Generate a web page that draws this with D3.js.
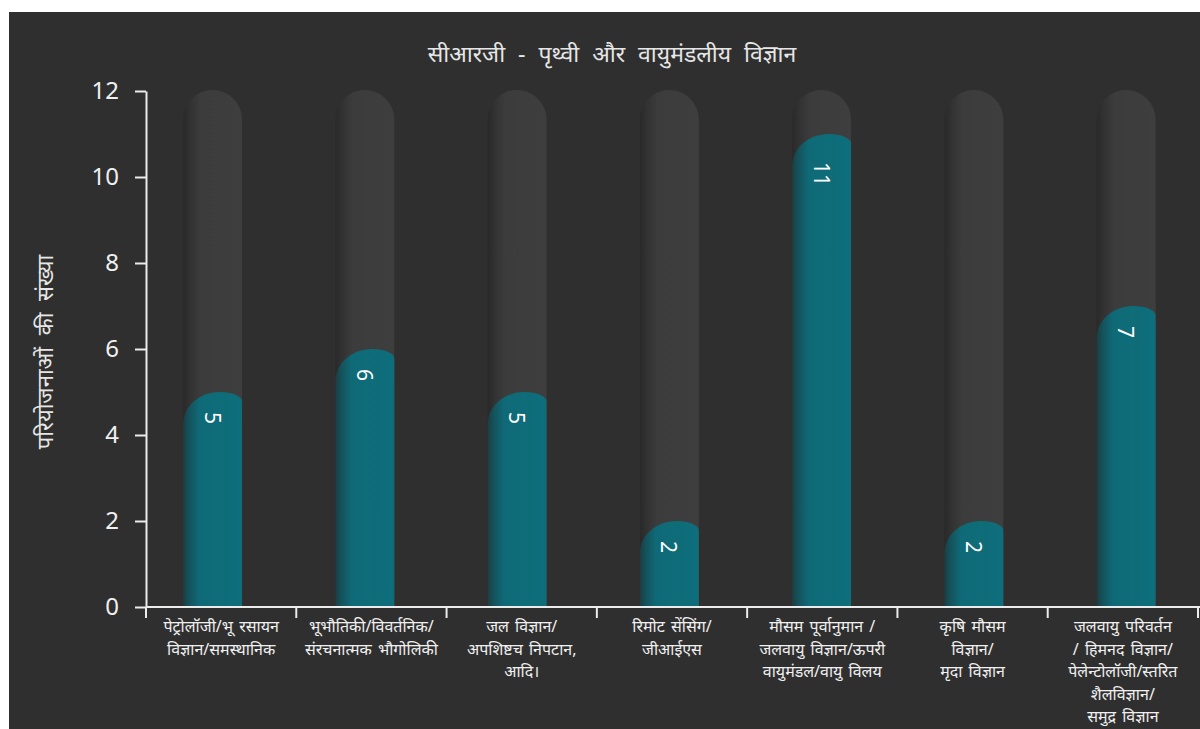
<!DOCTYPE html>
<html>
<head>
<meta charset="utf-8">
<script src="https://cdn.jsdelivr.net/npm/d3@7"></script>
<style>
  body { margin: 0; background: #ffffff; }
  svg { display: block; }
  text { font-family: "Noto Sans", "Open Sans", sans-serif; }
</style>
</head>
<body>
<svg id="chart" width="1200" height="729"></svg>
<script>
// Project counts per research area
const categories = ["petrology", "geophysics", "hydrology", "remoteSensing", "weather", "agromet", "climate"];
const categoryLabels = [
  ["पेट्रोलॉजी/भू रसायन", "विज्ञान/समस्थानिक"],
  ["भूभौतिकी/विवर्तनिक/", "संरचनात्मक भौगोलिकी"],
  ["जल विज्ञान/", "अपशिष्टच निपटान,", "आदि।"],
  ["रिमोट सेंसिंग/", "जीआईएस"],
  ["मौसम पूर्वानुमान /", "जलवायु विज्ञान/ऊपरी", "वायुमंडल/वायु विलय"],
  ["कृषि मौसम", "विज्ञान/", "मृदा विज्ञान"],
  ["जलवायु परिवर्तन", "/ हिमनद विज्ञान/", "पेलेन्टोलॉजी/स्तरित", "शैलविज्ञान/", "समुद्र विज्ञान"]
];
const projectCounts = [5, 6, 5, 2, 11, 2, 7];
const yTicks = [0, 2, 4, 6, 8, 10, 12];
const yMax = 12;
const chartTitle = "सीआरजी - पृथ्वी और वायुमंडलीय विज्ञान";
const yAxisTitle = "परियोजनाओं की संख्या";

const svg = d3.select("#chart");
const W = 1200, H = 729;

// dark panel
svg.append("rect").attr("x", 9).attr("y", 12).attr("width", W - 9).attr("height", H - 12).attr("fill", "#2f2f2f");

const defs = svg.append("defs");
const trackGrad = defs.append("linearGradient").attr("id", "trackGrad").attr("x1", 0).attr("x2", 1).attr("y1", 0).attr("y2", 0);
[[0, "#292929"], [0.12, "#323232"], [0.3, "#3c3c3c"], [1, "#3e3e3e"]].forEach(([o, c]) =>
  trackGrad.append("stop").attr("offset", o).attr("stop-color", c));
const fillGrad = defs.append("linearGradient").attr("id", "fillGrad").attr("x1", 0).attr("x2", 1).attr("y1", 0).attr("y2", 0);
[[0, "#1e3c41"], [0.1, "#14525b"], [0.28, "#0f6a77"], [1, "#0e6e7b"]].forEach(([o, c]) =>
  fillGrad.append("stop").attr("offset", o).attr("stop-color", c));

// scales
const y = d3.scaleLinear().domain([0, yMax]).range([607, 91]);
const xAxisBand = d3.scaleBand().domain(categories).range([146, 1198]);
const xBar = d3.scaleBand().domain(categories).range([136.4, 1202.2]).paddingInner(0.6125).paddingOuter(0.30625);

// title
svg.append("text").attr("x", 612).attr("y", 62).attr("text-anchor", "middle")
  .attr("fill", "#e6e6e6").attr("font-size", 23).attr("word-spacing", 7).text(chartTitle);

// y axis title
svg.append("text").attr("transform", "translate(53,352) rotate(-90)").attr("text-anchor", "middle")
  .attr("fill", "#e6e6e6").attr("font-size", 22).attr("word-spacing", 6).text(yAxisTitle);

// bars: rounded grey track up to the axis maximum, teal dome-topped fill for the value
const base = y(0);
function trackPath(x0, w, top) {
  const r = w / 2;
  return `M${x0},${base} L${x0},${top + r} A${r},${r} 0 0 1 ${x0 + w},${top + r} L${x0 + w},${base} Z`;
}
function fillPath(x0, w, top) {
  const k = 0.5523;
  const a = 0.62 * w, h = 0.55 * w;      // left quarter of the dome
  const b = w - a, d = 0.16 * w;         // right shoulder
  return `M${x0},${base} L${x0},${top + h}` +
    ` C${x0},${top + h - k * h} ${x0 + a - k * a},${top} ${x0 + a},${top}` +
    ` C${x0 + a + k * b},${top} ${x0 + w},${top + d - k * d} ${x0 + w},${top + d}` +
    ` L${x0 + w},${base} Z`;
}

const bars = svg.append("g").selectAll("g").data(categories).join("g");
bars.append("path").attr("d", d => trackPath(xBar(d), xBar.bandwidth(), y(yMax) - 1)).attr("fill", "url(#trackGrad)");
bars.append("path").attr("d", (d, i) => fillPath(xBar(d), xBar.bandwidth(), y(projectCounts[i]))).attr("fill", "url(#fillGrad)");
bars.append("text")
  .attr("transform", (d, i) => {
    const v = projectCounts[i];
    const off = 12 + 14 * String(v).length;
    return `translate(${xBar(d) + xBar.bandwidth() / 2},${y(v) + off}) rotate(90)`;
  })
  .attr("text-anchor", "middle").attr("dominant-baseline", "central")
  .attr("fill", "#ffffff").attr("font-size", 21).attr("font-family", "'DejaVu Sans', sans-serif")
  .text((d, i) => projectCounts[i]);

// y axis
const yAxis = svg.append("g").attr("transform", "translate(146,0)")
  .call(d3.axisLeft(y).tickValues(yTicks).tickSize(11).tickSizeOuter(0).tickPadding(16));
yAxis.select(".domain").attr("stroke", "#ececec").attr("stroke-width", 2);
yAxis.selectAll(".tick line").attr("stroke", "#ececec").attr("stroke-width", 2);
yAxis.selectAll(".tick text").attr("fill", "#f0f0f0").attr("font-size", 24).attr("font-family", "'Open Sans', 'Noto Sans', sans-serif");

// x axis: baseline plus ticks at category boundaries
const xAxis = svg.append("g");
xAxis.append("line").attr("x1", 146).attr("x2", W).attr("y1", base).attr("y2", base)
  .attr("stroke", "#ececec").attr("stroke-width", 2);
const boundaries = categories.map(d => xAxisBand(d)).concat([xAxisBand.range()[1]]);
xAxis.selectAll("line.b").data(boundaries).join("line").attr("class", "b")
  .attr("x1", d => d).attr("x2", d => d).attr("y1", base).attr("y2", base + 11)
  .attr("stroke", "#ececec").attr("stroke-width", 2);

const labels = xAxis.selectAll("text.cat").data(categories).join("text").attr("class", "cat")
  .attr("text-anchor", "middle").attr("fill", "#f0f0f0").attr("font-size", 16).attr("word-spacing", 2);
labels.each(function (d, i) {
  const t = d3.select(this);
  categoryLabels[i].forEach((line, k) => {
    t.append("tspan").attr("x", xAxisBand(d) + xAxisBand.bandwidth() / 2)
      .attr("y", 632 + k * 22.5).text(line);
  });
});
</script>
</body>
</html>
